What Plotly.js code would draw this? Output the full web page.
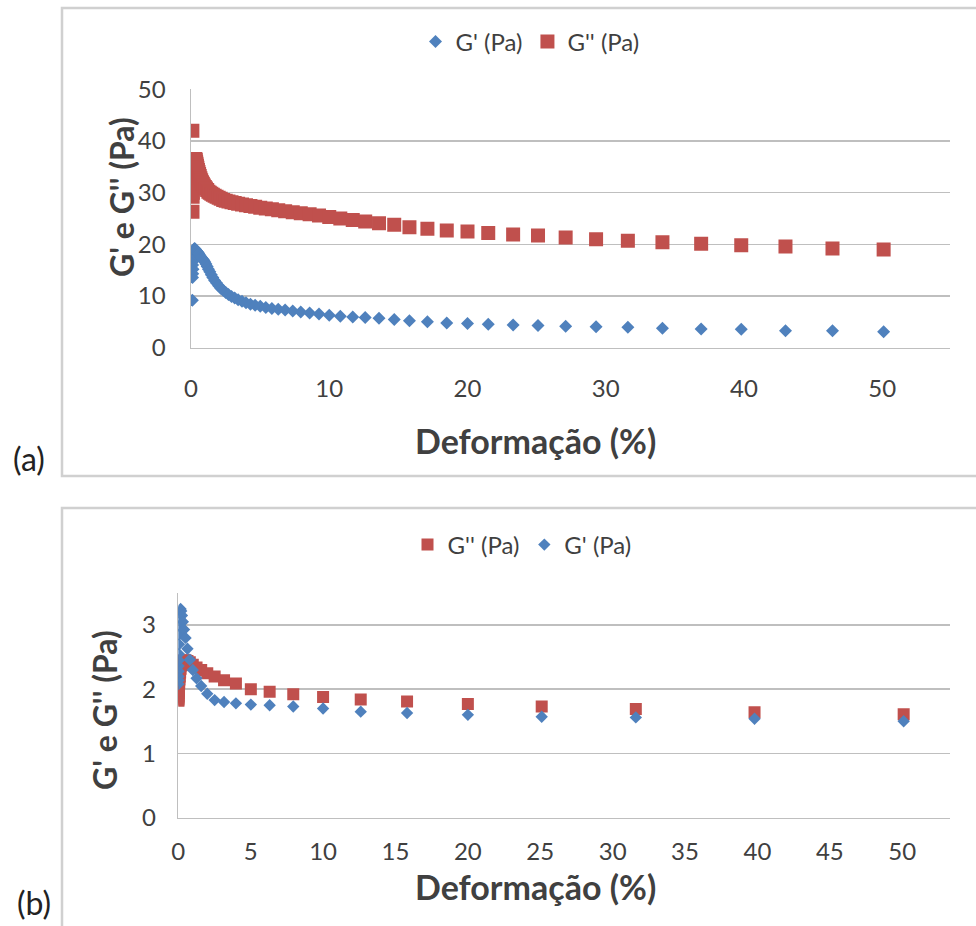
<!DOCTYPE html>
<html>
<head>
<meta charset="utf-8">
<script src="https://cdn.plot.ly/plotly-3.0.1.min.js"></script>
<style>html,body{margin:0;padding:0;background:#fff;}#chart{width:976px;height:926px;}</style>
</head>
<body>
<div id="chart"></div>
<script>
// ---------- Panel (a) data ----------
const strainA = [0.1,0.108,0.117,0.126,0.136,0.147,0.158,0.171,0.185,0.2,
  0.215,0.233,0.251,0.271,0.293,0.316,0.341,0.369,0.398,0.43,
  0.464,0.501,0.541,0.585,0.631,0.681,0.736,0.794,0.858,0.926,
  1,1.08,1.17,1.26,1.36,1.47,1.58,1.71,1.85,2.0,
  2.15,2.33,2.51,2.71,2.93,3.16,3.41,3.69,3.98,4.3,
  4.64,5.01,5.41,5.85,6.31,6.81,7.36,7.94,8.58,9.26,
  10,10.8,11.7,12.6,13.6,14.7,15.8,17.1,18.5,20.0,
  21.5,23.3,25.1,27.1,29.3,31.6,34.1,36.9,39.8,43.0,
  46.4,50.1];
const gPrimeA = [9.2,13.6,16.0,14.3,17.2,15.2,18.0,16.8,18.6,17.6,
  19.0,18.3,19.2,18.8,19.1,19.0,18.9,18.8,18.7,18.6,
  18.5,18.4,18.3,18.1,17.9,17.7,17.5,17.3,17.1,16.9,
  16.6,16.2,15.7,15.2,14.7,14.1,13.6,13.0,12.5,12.0,
  11.5,11.1,10.7,10.3,9.9,9.6,9.3,9.0,8.7,8.4,
  8.2,8.0,7.8,7.6,7.45,7.3,7.1,6.9,6.7,6.5,
  6.3,6.1,5.95,5.85,5.7,5.45,5.2,5.0,4.8,4.7,
  4.55,4.4,4.3,4.15,4.05,3.95,3.75,3.6,3.55,3.3,
  3.3,3.1];
const gDoubleA = [42.0,26.3,29.2,31.0,30.0,32.6,31.5,33.8,33.0,34.8,
  34.2,35.6,35.2,36.2,35.9,36.5,36.3,36.0,35.6,35.2,
  34.8,34.4,34.0,33.6,33.2,32.8,32.4,32.0,31.7,31.4,
  31.1,30.8,30.5,30.2,30.0,29.8,29.6,29.4,29.2,29.0,
  28.8,28.6,28.45,28.3,28.15,28.0,27.85,27.7,27.55,27.4,
  27.25,27.1,26.95,26.8,26.6,26.4,26.2,26.0,25.8,25.6,
  25.3,25.0,24.7,24.4,24.1,23.8,23.3,23.0,22.7,22.5,
  22.2,21.9,21.7,21.3,21.0,20.7,20.4,20.1,19.8,19.6,
  19.2,19.0];
const xTicksA = [0,10,20,30,40,50];
const yTicksA = [0,10,20,30,40,50];

// ---------- Panel (b) data ----------
const strainB = [0.01,0.0126,0.0158,0.02,0.0251,0.0316,0.0398,0.0501,0.0631,0.0794,
  0.1,0.126,0.158,0.2,0.251,0.316,0.398,0.501,0.631,0.794,
  1,1.26,1.58,2,2.51,3.16,3.98,5.01,6.31,7.94,
  10,12.6,15.8,20,25.1,31.6,39.8,50.1];
const gPrimeB = [2.08,2.14,2.2,2.28,2.36,2.45,2.55,2.7,2.85,2.98,
  3.1,3.22,3.25,3.22,3.15,3.05,2.93,2.8,2.63,2.46,
  2.3,2.17,2.05,1.93,1.83,1.8,1.78,1.76,1.75,1.73,
  1.7,1.65,1.63,1.6,1.57,1.56,1.54,1.5];
const gDoubleB = [1.82,1.84,1.87,1.9,1.94,1.98,2.02,2.06,2.1,2.15,
  2.2,2.26,2.32,2.37,2.41,2.44,2.45,2.45,2.44,2.42,
  2.38,2.34,2.3,2.25,2.2,2.14,2.09,2.0,1.96,1.92,
  1.88,1.84,1.81,1.77,1.73,1.69,1.64,1.61];
const xTicksB = [0,5,10,15,20,25,30,35,40,45,50];
const yTicksB = [0,1,2,3];

const nameGp = "G' (Pa)";
const nameGpp = "G'' (Pa)";
const BLUE = '#4F81BD';
const RED = '#C0504D';

const traces = [
  {x: strainA, y: gPrimeA, name: nameGp, type:'scatter', mode:'markers', xaxis:'x', yaxis:'y', legend:'legend',
   marker:{symbol:'diamond', size:10, color:BLUE}},
  {x: strainA, y: gDoubleA, name: nameGpp, type:'scatter', mode:'markers', xaxis:'x', yaxis:'y', legend:'legend',
   marker:{symbol:'square', size:14, color:RED}},
  {x: strainB, y: gDoubleB, name: nameGpp, type:'scatter', mode:'markers', xaxis:'x2', yaxis:'y2', legend:'legend2',
   marker:{symbol:'square', size:12, color:RED}},
  {x: strainB, y: gPrimeB, name: nameGp, type:'scatter', mode:'markers', xaxis:'x2', yaxis:'y2', legend:'legend2',
   marker:{symbol:'diamond', size:9.5, color:BLUE}}
];

const W = 976, H = 926;
const px = v => v / W;
const py = v => 1 - v / H;
const FONT = 'Lato, "Open Sans", sans-serif';
const TXT = '#404040';
const GRID = '#bfbfbf';

function xAx(domain, range, ticks, anchor, standoff){
  return {domain, range, tickvals: ticks, ticktext: ticks.map(String), anchor,
    showgrid:false, zeroline:false, showline:true, linecolor:GRID, linewidth:1.5,
    ticks:'outside', ticklen:standoff, tickcolor:'rgba(0,0,0,0)',
    tickfont:{family:FONT, size:24, color:TXT}, fixedrange:true};
}
function yAx(domain, range, ticks, anchor, standoff){
  return {domain, range, tickvals: ticks, ticktext: ticks.map(String), anchor,
    showgrid:true, gridcolor:GRID, gridwidth:1.5, zeroline:false, showline:true, linecolor:GRID, linewidth:1.5,
    ticks:'outside', ticklen:standoff, tickcolor:'rgba(0,0,0,0)',
    tickfont:{family:FONT, size:24, color:TXT}, fixedrange:true};
}

const layout = {
  width: W, height: H,
  margin:{l:0,r:0,t:0,b:0,pad:0},
  paper_bgcolor:'#ffffff', plot_bgcolor:'#ffffff',
  font:{family:FONT, color:TXT, size:24},
  showlegend:true,
  xaxis: xAx([px(191), px(950)], [0, 54.9], xTicksA, 'y', 19),
  yaxis: yAx([py(347.7), py(89.3)], [0, 50], yTicksA, 'x', 19),
  xaxis2: xAx([px(178.3), px(950)], [0, 53.3], xTicksB, 'y2', 12),
  yaxis2: yAx([py(817.5), py(593)], [0, 3.5], yTicksB, 'x2', 16),
  legend:{orientation:'h', x:px(530), xanchor:'center', y:py(42), yanchor:'middle',
    font:{family:FONT, size:24, color:TXT}, bgcolor:'rgba(0,0,0,0)', itemwidth:30, tracegroupgap:0},
  legend2:{orientation:'h', x:px(522), xanchor:'center', y:py(545), yanchor:'middle',
    font:{family:FONT, size:24, color:TXT}, bgcolor:'rgba(0,0,0,0)', itemwidth:30, traceorder:'normal'},
  shapes:[
    {type:'rect', xref:'paper', yref:'paper', x0:px(62), x1:1.02, y0:py(476), y1:py(8),
     line:{color:'#d0d0d0', width:2.5}, fillcolor:'rgba(0,0,0,0)', layer:'below'},
    {type:'rect', xref:'paper', yref:'paper', x0:px(62), x1:1.02, y0:-0.02, y1:py(508),
     line:{color:'#d0d0d0', width:2.5}, fillcolor:'rgba(0,0,0,0)', layer:'below'}
  ],
  annotations:[
    {text:'(a)', xref:'paper', yref:'paper', x:px(29), y:py(458), showarrow:false,
     font:{family:FONT, size:32, color:'#222'}, xanchor:'center', yanchor:'middle'},
    {text:'(b)', xref:'paper', yref:'paper', x:px(34), y:py(902), showarrow:false,
     font:{family:FONT, size:32, color:'#222'}, xanchor:'center', yanchor:'middle'},
    {text:'<b>Deformação (%)</b>', xref:'paper', yref:'paper', x:px(535), y:py(440), showarrow:false,
     font:{family:FONT, size:34, color:TXT}, xanchor:'center', yanchor:'middle'},
    {text:'<b>Deformação (%)</b>', xref:'paper', yref:'paper', x:px(535), y:py(886), showarrow:false,
     font:{family:FONT, size:34, color:TXT}, xanchor:'center', yanchor:'middle'},
    {text:"<b>G' e G'' (Pa)</b>", xref:'paper', yref:'paper', x:px(122), y:py(197), showarrow:false, textangle:-90,
     font:{family:FONT, size:32, color:TXT}, xanchor:'center', yanchor:'middle'},
    {text:"<b>G' e G'' (Pa)</b>", xref:'paper', yref:'paper', x:px(104), y:py(710), showarrow:false, textangle:-90,
     font:{family:FONT, size:32, color:TXT}, xanchor:'center', yanchor:'middle'}
  ]
};

Plotly.newPlot('chart', traces, layout, {displayModeBar:false, staticPlot:true});
</script>
</body>
</html>
